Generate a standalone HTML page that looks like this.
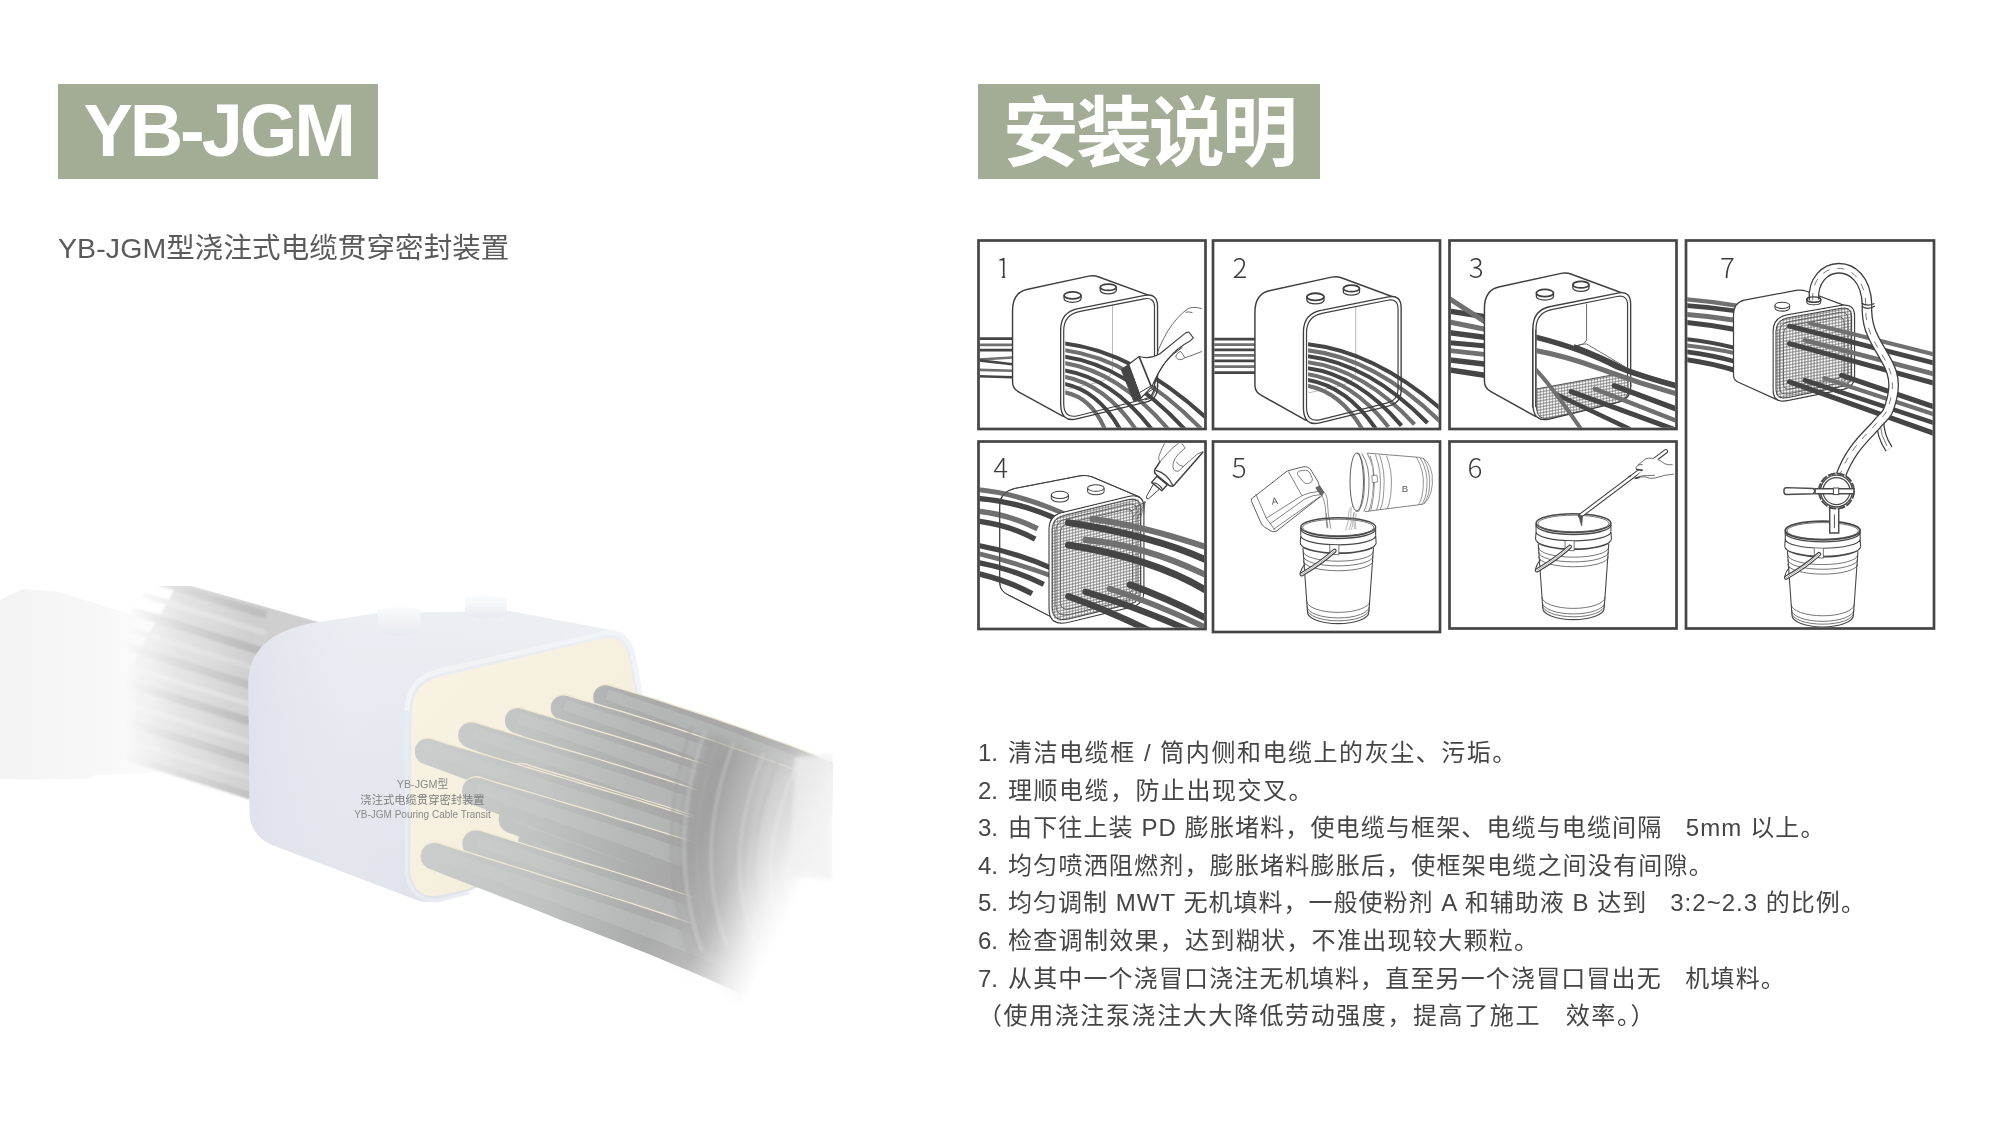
<!DOCTYPE html>
<html lang="zh-CN">
<head>
<meta charset="utf-8">
<title>YB-JGM 安装说明</title>
<style>
  html, body { margin: 0; padding: 0; background: #fff; }
  body { width: 2000px; height: 1143px; position: relative; overflow: hidden;
         font-family: "Liberation Sans", "Noto Sans CJK SC", sans-serif; color: #4a4a4a; }
  .tag { position: absolute; background: #a3ad96; color: #fff; font-weight: bold; white-space: nowrap; }
  #tag1 { left: 58px; top: 84px; width: 320px; height: 95px; }
  #tag1 span { position: absolute; left: 25.5px; top: 5px; font-size: 74px; line-height: 84px; letter-spacing: -3.1px; }
  #tag2 { left: 978px; top: 84px; width: 342px; height: 95px; }
  #tag2 span { position: absolute; left: 25px; top: 4px; font-size: 76px; line-height: 92px; letter-spacing: -3.1px; }
  #subtitle { position: absolute; left: 58px; top: 228px; letter-spacing: 0.1px; font-size: 28.5px; line-height: 40px; color: #5a5a5a; white-space: nowrap; font-weight: 400; }
  #steps { position: absolute; left: 978px; top: 734px; letter-spacing: 1.4px; margin: 0; padding: 0; list-style: none; font-size: 24px; line-height: 37.6px; color: #454545; white-space: nowrap; }
  #steps li { margin: 0; padding: 0; height: 37.6px; }
  #steps .n { display: inline-block; width: 30px; letter-spacing: 0; }
  /*LS*/#steps li:nth-child(1){letter-spacing:1.54px}#steps li:nth-child(2){letter-spacing:1.49px}#steps li:nth-child(3){letter-spacing:1.13px}#steps li:nth-child(4){letter-spacing:1.21px}#steps li:nth-child(5){letter-spacing:1.02px}#steps li:nth-child(6){letter-spacing:1.30px}#steps li:nth-child(7){letter-spacing:1.15px}#steps li:nth-child(8){letter-spacing:1.59px}/*LSEND*/
  #art { position: absolute; left: 0; top: 0; width: 2000px; height: 1143px; }
  #cap { position: absolute; left: 330px; top: 777px; width: 185px; text-align: center; font-size: 10px; line-height: 14.5px; color: #8a8a8a; white-space: nowrap; }
</style>
</head>
<body>

<!--PHOTO-->
<svg id="photo" viewBox="0 0 2000 1143" width="2000" height="1143" style="position:absolute;left:0;top:0">
<defs>
<filter id="bl2" x="-10%" y="-10%" width="120%" height="120%"><feGaussianBlur stdDeviation="2"/></filter>
<filter id="bl4" x="-10%" y="-10%" width="120%" height="120%"><feGaussianBlur stdDeviation="4"/></filter>
<filter id="bl8" x="-20%" y="-20%" width="140%" height="140%"><feGaussianBlur stdDeviation="8"/></filter>
<filter id="bl1" x="-5%" y="-5%" width="110%" height="110%"><feGaussianBlur stdDeviation="0.8"/></filter>
<linearGradient id="gBody" x1="0" y1="0" x2="0" y2="1"><stop offset="0" stop-color="#eef0f5"/><stop offset="0.45" stop-color="#e4e7ee"/><stop offset="1" stop-color="#dcdfe7"/></linearGradient>
<linearGradient id="gBodyH" x1="0" y1="0" x2="1" y2="0"><stop offset="0" stop-color="#dfe2ea" stop-opacity="0.9"/><stop offset="0.25" stop-color="#e8ebf1" stop-opacity="0.5"/><stop offset="1" stop-color="#e6e9ef" stop-opacity="0"/></linearGradient>
<linearGradient id="gFace" x1="0" y1="0" x2="1" y2="1"><stop offset="0" stop-color="#f8f3e4"/><stop offset="1" stop-color="#f3ecd9"/></linearGradient>
<linearGradient id="gStub" x1="0" y1="0" x2="0" y2="1"><stop offset="0" stop-color="#fafbfc"/><stop offset="1" stop-color="#e6e9f0"/></linearGradient>
<linearGradient id="gLfade" gradientUnits="userSpaceOnUse" x1="125" y1="0" x2="250" y2="0"><stop offset="0" stop-color="#fff" stop-opacity="0"/><stop offset="0.45" stop-color="#fff" stop-opacity="0.55"/><stop offset="1" stop-color="#fff" stop-opacity="1"/></linearGradient>
<mask id="mLeft" maskUnits="userSpaceOnUse" x="0" y="560" width="330" height="300"><rect x="0" y="560" width="330" height="300" fill="url(#gLfade)"/></mask>
<linearGradient id="gRfade" gradientUnits="userSpaceOnUse" x1="690" y1="850" x2="795" y2="900"><stop offset="0" stop-color="#fff" stop-opacity="1"/><stop offset="0.4" stop-color="#fff" stop-opacity="0.8"/><stop offset="0.8" stop-color="#fff" stop-opacity="0.2"/><stop offset="1" stop-color="#fff" stop-opacity="0"/></linearGradient>
<mask id="mRight" maskUnits="userSpaceOnUse" x="400" y="600" width="440" height="420"><rect x="400" y="600" width="440" height="420" fill="url(#gRfade)"/></mask>
<linearGradient id="gBand" gradientUnits="userSpaceOnUse" x1="0" y1="0" x2="210" y2="0"><stop offset="0" stop-color="#f3f3f3"/><stop offset="0.5" stop-color="#f8f8f8"/><stop offset="1" stop-color="#ffffff"/></linearGradient>
<linearGradient id="gCab" gradientUnits="userSpaceOnUse" x1="760" y1="0" x2="1560" y2="0"><stop offset="0" stop-color="#cbcdcd"/><stop offset="0.45" stop-color="#c2c4c4"/><stop offset="0.85" stop-color="#adaeae"/><stop offset="1" stop-color="#a9a9a9"/></linearGradient>
<clipPath id="cpLeft"><path d="M 150,586 L 192,586 L 330,625 L 330,860 L 60,860 L 60,700 Z"/></clipPath>
<clipPath id="cpPhoto"><rect x="0" y="570" width="832.5" height="440"/></clipPath>
</defs>
<g clip-path="url(#cpPhoto)">
<path d="M 0,600 L 22,589 L 60,592 L 210,640 L 210,770 L 95,775 L 90,779 L 0,779 Z" fill="url(#gBand)"/>
<g clip-path="url(#cpLeft)"><g mask="url(#mLeft)"><g transform="translate(0,570) scale(0.22753)" filter="url(#bl4)">
<path d="M 780,60 L 830,62 L 1480,250 L 1160,330 L 1160,1030 L 380,770 Z" fill="#cfcfcf"/>
<path d="M 300,-72 L 1170,198" stroke="#bfbfbf" stroke-width="34" fill="none"/>
<path d="M 300,8 L 1170,278" stroke="#dadada" stroke-width="26" fill="none"/>
<path d="M 300,93 L 1170,363" stroke="#bababa" stroke-width="36" fill="none"/>
<path d="M 300,178 L 1170,448" stroke="#d8d8d8" stroke-width="24" fill="none"/>
<path d="M 300,258 L 1170,528" stroke="#bebebe" stroke-width="36" fill="none"/>
<path d="M 300,343 L 1170,613" stroke="#dcdcdc" stroke-width="22" fill="none"/>
<path d="M 300,418 L 1170,688" stroke="#b9b9b9" stroke-width="36" fill="none"/>
<path d="M 300,508 L 1170,778" stroke="#dadada" stroke-width="24" fill="none"/>
<path d="M 300,588 L 1170,858" stroke="#bcbcbc" stroke-width="36" fill="none"/>
<path d="M 300,668 L 1170,938" stroke="#d8d8d8" stroke-width="22" fill="none"/>
<path d="M 300,743 L 1170,1013" stroke="#c0c0c0" stroke-width="32" fill="none"/>
</g></g></g>
<g transform="translate(200,580) scale(0.297442)">
<g filter="url(#bl1)">
<path d="M 892,62 L 892,118 Q 960,140 1032,118 L 1032,62 Q 960,42 892,62 Z" fill="url(#gStub)"/>
<path d="M 598,102 L 598,176 Q 670,198 742,172 L 742,100 Q 670,80 598,102 Z" fill="url(#gStub)"/>
</g>
<path d="M 163,345 Q 165,190 365,147 L 595,112 L 1040,104 L 1372,166 Q 1442,178 1458,250 L 1482,385 L 1400,800 L 900,1048 Q 800,1090 740,1080 L 245,892 Q 174,862 167,790 Z" fill="url(#gBody)"/>
<path d="M 163,345 Q 165,190 365,147 L 595,112 L 1040,104 L 1372,166 Q 1442,178 1458,250 L 1482,385 L 1400,800 L 900,1048 Q 800,1090 740,1080 L 245,892 Q 174,862 167,790 Z" fill="url(#gBodyH)"/>
<g filter="url(#bl1)">
<path d="M 598,102 L 598,176 Q 670,198 742,172 L 742,100 Q 670,80 598,102 Z" fill="url(#gStub)"/>
<path d="M 892,70 L 892,118 Q 960,140 1032,118 L 1032,70 Z" fill="url(#gStub)"/>
</g>
<path d="M 696,440 Q 698,335 798,308 L 1364,178 Q 1434,168 1456,250 L 1482,390" fill="none" stroke="#f1f3f7" stroke-width="16"/>
<path d="M 696,440 L 694,990 Q 714,1082 800,1078 L 905,1050" fill="none" stroke="#e9ecf2" stroke-width="12"/>
<path d="M 712,440 Q 716,350 802,326 L 1362,195 Q 1418,186 1440,250 L 1464,388 L 1420,800 L 900,1040 L 795,1062 Q 722,1070 706,985 Z" fill="url(#gFace)"/>
</g>
<g mask="url(#mRight)"><g transform="translate(200,580) scale(0.297442)">
<g transform="translate(2,-4)"><path d="M 1136,833 L 1186,848 L 1236,863 L 1285,879 L 1335,894 L 1385,909 L 1435,925 L 1485,941 L 1535,957 L 1585,973 L 1635,990 L 1685,1007 L 1736,1024 L 1786,1042 L 1836,1060 L 1886,1078 L 1936,1097 L 1987,1116 L 2037,1135 L 2087,1155 L 2137,1175 L 2188,1195 L 2238,1216 L 2288,1237 L 2338,1258 L 2262,1424 L 2213,1400 L 2165,1376 L 2117,1353 L 2069,1329 L 2021,1307 L 1973,1284 L 1925,1262 L 1877,1240 L 1829,1219 L 1781,1197 L 1733,1176 L 1684,1156 L 1636,1135 L 1588,1116 L 1540,1096 L 1492,1076 L 1443,1057 L 1395,1039 L 1347,1020 L 1298,1002 L 1250,983 L 1201,964 L 1152,946 L 1104,927 Z" fill="#efe8d2"/><circle cx="1120" cy="880" r="51.0" fill="#efe8d2"/></g>
<path d="M 1136,833 L 1186,848 L 1236,863 L 1285,879 L 1335,894 L 1385,909 L 1435,925 L 1485,941 L 1535,957 L 1585,973 L 1635,990 L 1685,1007 L 1736,1024 L 1786,1042 L 1836,1060 L 1886,1078 L 1936,1097 L 1987,1116 L 2037,1135 L 2087,1155 L 2137,1175 L 2188,1195 L 2238,1216 L 2288,1237 L 2338,1258 L 2262,1424 L 2213,1400 L 2165,1376 L 2117,1353 L 2069,1329 L 2021,1307 L 1973,1284 L 1925,1262 L 1877,1240 L 1829,1219 L 1781,1197 L 1733,1176 L 1684,1156 L 1636,1135 L 1588,1116 L 1540,1096 L 1492,1076 L 1443,1057 L 1395,1039 L 1347,1020 L 1298,1002 L 1250,983 L 1201,964 L 1152,946 L 1104,927 Z" fill="url(#gCab)"/><circle cx="1120" cy="880" r="50.0" fill="url(#gCab)"/>
<path d="M 1133,850 L 1182,866 L 1231,883 L 1280,899 L 1329,915 L 1379,931 L 1428,947 L 1477,964 L 1527,981 L 1576,998 L 1625,1015 L 1674,1033 L 1724,1051 L 1773,1070 L 1823,1089 L 1872,1108 L 1921,1127 L 1971,1147 L 2020,1167 L 2069,1187 L 2119,1208 L 2168,1229 L 2218,1250 L 2267,1272 L 2316,1294 L 2284,1364 L 2235,1341 L 2187,1318 L 2138,1295 L 2090,1273 L 2041,1251 L 1993,1230 L 1945,1208 L 1896,1187 L 1848,1167 L 1799,1147 L 1751,1127 L 1702,1107 L 1654,1087 L 1605,1068 L 1557,1050 L 1508,1031 L 1460,1013 L 1411,995 L 1363,978 L 1314,960 L 1265,943 L 1217,925 L 1168,907 L 1119,890 Z" fill="#d0d2d2" opacity="0.3" filter="url(#bl2)"/>
<g transform="translate(2,-4)"><path d="M 1376,356 L 1416,368 L 1455,380 L 1495,392 L 1535,404 L 1574,417 L 1614,430 L 1654,443 L 1694,456 L 1733,469 L 1773,483 L 1813,497 L 1853,511 L 1892,525 L 1932,540 L 1972,554 L 2012,569 L 2052,584 L 2091,600 L 2131,615 L 2171,631 L 2211,647 L 2251,663 L 2291,679 L 2330,696 L 2270,830 L 2231,811 L 2193,793 L 2155,774 L 2116,756 L 2078,738 L 2040,720 L 2002,703 L 1964,685 L 1925,668 L 1887,651 L 1849,634 L 1810,618 L 1772,601 L 1734,585 L 1695,569 L 1657,553 L 1619,538 L 1580,522 L 1542,507 L 1504,492 L 1465,477 L 1427,463 L 1388,448 L 1350,434 Z" fill="#efe8d2"/><circle cx="1363" cy="395" r="42.0" fill="#efe8d2"/></g>
<path d="M 1376,356 L 1416,368 L 1455,380 L 1495,392 L 1535,404 L 1574,417 L 1614,430 L 1654,443 L 1694,456 L 1733,469 L 1773,483 L 1813,497 L 1853,511 L 1892,525 L 1932,540 L 1972,554 L 2012,569 L 2052,584 L 2091,600 L 2131,615 L 2171,631 L 2211,647 L 2251,663 L 2291,679 L 2330,696 L 2270,830 L 2231,811 L 2193,793 L 2155,774 L 2116,756 L 2078,738 L 2040,720 L 2002,703 L 1964,685 L 1925,668 L 1887,651 L 1849,634 L 1810,618 L 1772,601 L 1734,585 L 1695,569 L 1657,553 L 1619,538 L 1580,522 L 1542,507 L 1504,492 L 1465,477 L 1427,463 L 1388,448 L 1350,434 Z" fill="url(#gCab)"/><circle cx="1363" cy="395" r="41.0" fill="url(#gCab)"/>
<path d="M 1374,369 L 1414,381 L 1453,394 L 1492,407 L 1531,420 L 1570,433 L 1609,446 L 1648,460 L 1687,474 L 1726,488 L 1765,502 L 1804,516 L 1843,531 L 1883,546 L 1922,561 L 1961,576 L 2000,592 L 2039,607 L 2078,623 L 2117,639 L 2156,655 L 2196,672 L 2235,689 L 2274,705 L 2313,722 L 2287,779 L 2249,761 L 2210,743 L 2172,726 L 2133,708 L 2095,691 L 2056,674 L 2018,657 L 1979,641 L 1941,624 L 1903,608 L 1864,592 L 1826,576 L 1787,560 L 1749,545 L 1710,530 L 1672,515 L 1633,500 L 1595,485 L 1556,471 L 1518,456 L 1479,442 L 1441,429 L 1402,415 L 1364,401 Z" fill="#d0d2d2" opacity="0.3" filter="url(#bl2)"/>
<g transform="translate(2,-4)"><path d="M 1234,390 L 1280,404 L 1325,417 L 1371,431 L 1416,444 L 1462,458 L 1508,472 L 1553,487 L 1599,501 L 1645,516 L 1691,531 L 1737,547 L 1782,563 L 1828,579 L 1874,595 L 1920,611 L 1966,628 L 2012,645 L 2058,663 L 2103,680 L 2149,698 L 2195,717 L 2241,735 L 2287,754 L 2333,773 L 2267,918 L 2223,896 L 2179,875 L 2135,854 L 2091,833 L 2047,813 L 2003,792 L 1959,772 L 1915,753 L 1871,733 L 1827,714 L 1783,695 L 1739,676 L 1694,658 L 1650,640 L 1606,622 L 1562,604 L 1518,587 L 1474,569 L 1430,553 L 1385,536 L 1341,519 L 1297,503 L 1252,486 L 1208,470 Z" fill="#efe8d2"/><circle cx="1221" cy="430" r="43.0" fill="#efe8d2"/></g>
<path d="M 1234,390 L 1280,404 L 1325,417 L 1371,431 L 1416,444 L 1462,458 L 1508,472 L 1553,487 L 1599,501 L 1645,516 L 1691,531 L 1737,547 L 1782,563 L 1828,579 L 1874,595 L 1920,611 L 1966,628 L 2012,645 L 2058,663 L 2103,680 L 2149,698 L 2195,717 L 2241,735 L 2287,754 L 2333,773 L 2267,918 L 2223,896 L 2179,875 L 2135,854 L 2091,833 L 2047,813 L 2003,792 L 1959,772 L 1915,753 L 1871,733 L 1827,714 L 1783,695 L 1739,676 L 1694,658 L 1650,640 L 1606,622 L 1562,604 L 1518,587 L 1474,569 L 1430,553 L 1385,536 L 1341,519 L 1297,503 L 1252,486 L 1208,470 Z" fill="url(#gCab)"/><circle cx="1221" cy="430" r="42.0" fill="url(#gCab)"/>
<path d="M 1233,403 L 1278,418 L 1322,432 L 1367,446 L 1412,461 L 1457,475 L 1502,490 L 1547,505 L 1593,520 L 1638,536 L 1683,552 L 1728,568 L 1773,585 L 1818,601 L 1863,618 L 1908,635 L 1953,653 L 1998,671 L 2043,689 L 2088,707 L 2134,726 L 2179,745 L 2224,764 L 2269,783 L 2314,803 L 2286,864 L 2242,843 L 2197,823 L 2153,803 L 2109,783 L 2064,763 L 2020,744 L 1976,724 L 1932,705 L 1887,687 L 1843,668 L 1799,650 L 1754,632 L 1710,615 L 1666,598 L 1621,581 L 1577,564 L 1532,547 L 1488,531 L 1444,515 L 1399,499 L 1355,484 L 1310,468 L 1266,452 L 1221,437 Z" fill="#d0d2d2" opacity="0.3" filter="url(#bl2)"/>
<g transform="translate(2,-4)"><path d="M 1080,433 L 1132,449 L 1184,464 L 1236,480 L 1288,495 L 1340,511 L 1392,526 L 1444,542 L 1497,558 L 1549,574 L 1601,591 L 1654,608 L 1706,625 L 1758,643 L 1811,661 L 1863,680 L 1915,699 L 1968,718 L 2020,738 L 2073,757 L 2125,778 L 2178,798 L 2230,819 L 2283,841 L 2335,862 L 2265,1018 L 2214,993 L 2164,969 L 2114,945 L 2064,921 L 2013,898 L 1963,875 L 1913,852 L 1863,830 L 1812,808 L 1762,786 L 1711,765 L 1661,744 L 1611,724 L 1560,704 L 1510,684 L 1459,664 L 1409,645 L 1358,626 L 1308,607 L 1257,588 L 1206,570 L 1155,551 L 1104,532 L 1054,513 Z" fill="#efe8d2"/><circle cx="1067" cy="473" r="43.0" fill="#efe8d2"/></g>
<path d="M 1080,433 L 1132,449 L 1184,464 L 1236,480 L 1288,495 L 1340,511 L 1392,526 L 1444,542 L 1497,558 L 1549,574 L 1601,591 L 1654,608 L 1706,625 L 1758,643 L 1811,661 L 1863,680 L 1915,699 L 1968,718 L 2020,738 L 2073,757 L 2125,778 L 2178,798 L 2230,819 L 2283,841 L 2335,862 L 2265,1018 L 2214,993 L 2164,969 L 2114,945 L 2064,921 L 2013,898 L 1963,875 L 1913,852 L 1863,830 L 1812,808 L 1762,786 L 1711,765 L 1661,744 L 1611,724 L 1560,704 L 1510,684 L 1459,664 L 1409,645 L 1358,626 L 1308,607 L 1257,588 L 1206,570 L 1155,551 L 1104,532 L 1054,513 Z" fill="url(#gCab)"/><circle cx="1067" cy="473" r="42.0" fill="url(#gCab)"/>
<path d="M 1079,446 L 1130,463 L 1181,479 L 1233,495 L 1284,512 L 1335,528 L 1387,545 L 1438,561 L 1490,578 L 1541,595 L 1593,613 L 1644,631 L 1696,649 L 1748,667 L 1799,686 L 1851,706 L 1902,725 L 1954,745 L 2005,766 L 2057,786 L 2109,808 L 2160,829 L 2212,851 L 2263,873 L 2315,895 L 2285,961 L 2234,937 L 2184,914 L 2133,891 L 2082,868 L 2032,846 L 1981,824 L 1930,802 L 1880,781 L 1829,760 L 1778,739 L 1728,719 L 1677,699 L 1626,680 L 1576,660 L 1525,641 L 1474,623 L 1423,605 L 1373,587 L 1322,569 L 1271,551 L 1220,533 L 1169,515 L 1118,498 L 1067,480 Z" fill="#d0d2d2" opacity="0.3" filter="url(#bl2)"/>
<g transform="translate(2,-4)"><path d="M 925,481 L 983,499 L 1042,516 L 1100,534 L 1159,551 L 1217,569 L 1276,586 L 1334,603 L 1393,621 L 1452,639 L 1511,657 L 1570,675 L 1629,694 L 1688,714 L 1747,734 L 1806,754 L 1865,775 L 1924,796 L 1983,818 L 2042,840 L 2101,863 L 2161,886 L 2220,909 L 2279,934 L 2338,958 L 2262,1125 L 2205,1097 L 2149,1070 L 2092,1043 L 2036,1016 L 1979,990 L 1922,965 L 1866,940 L 1809,915 L 1752,891 L 1696,867 L 1639,844 L 1582,821 L 1526,798 L 1469,776 L 1412,754 L 1355,733 L 1298,712 L 1241,691 L 1183,669 L 1126,648 L 1069,627 L 1012,605 L 955,584 L 897,563 Z" fill="#efe8d2"/><circle cx="911" cy="522" r="44.0" fill="#efe8d2"/></g>
<path d="M 925,481 L 983,499 L 1042,516 L 1100,534 L 1159,551 L 1217,569 L 1276,586 L 1334,603 L 1393,621 L 1452,639 L 1511,657 L 1570,675 L 1629,694 L 1688,714 L 1747,734 L 1806,754 L 1865,775 L 1924,796 L 1983,818 L 2042,840 L 2101,863 L 2161,886 L 2220,909 L 2279,934 L 2338,958 L 2262,1125 L 2205,1097 L 2149,1070 L 2092,1043 L 2036,1016 L 1979,990 L 1922,965 L 1866,940 L 1809,915 L 1752,891 L 1696,867 L 1639,844 L 1582,821 L 1526,798 L 1469,776 L 1412,754 L 1355,733 L 1298,712 L 1241,691 L 1183,669 L 1126,648 L 1069,627 L 1012,605 L 955,584 L 897,563 Z" fill="url(#gCab)"/><circle cx="911" cy="522" r="43.0" fill="url(#gCab)"/>
<path d="M 923,495 L 981,513 L 1039,532 L 1096,550 L 1154,569 L 1212,587 L 1270,606 L 1328,624 L 1386,643 L 1444,661 L 1502,680 L 1560,700 L 1618,720 L 1676,740 L 1735,761 L 1793,782 L 1851,804 L 1909,826 L 1967,849 L 2025,872 L 2083,895 L 2142,919 L 2200,944 L 2258,969 L 2316,994 L 2284,1065 L 2227,1038 L 2170,1012 L 2113,986 L 2056,960 L 1999,936 L 1941,911 L 1884,887 L 1827,863 L 1770,840 L 1713,817 L 1656,795 L 1599,773 L 1542,752 L 1484,731 L 1427,710 L 1370,690 L 1313,670 L 1255,650 L 1198,630 L 1141,610 L 1083,589 L 1026,569 L 969,549 L 911,529 Z" fill="#d0d2d2" opacity="0.3" filter="url(#bl2)"/>
<g transform="translate(2,-4)"><path d="M 1092,621 L 1144,637 L 1195,652 L 1247,667 L 1298,683 L 1350,698 L 1401,714 L 1453,729 L 1505,745 L 1557,761 L 1609,778 L 1661,795 L 1712,812 L 1764,830 L 1816,848 L 1868,866 L 1920,885 L 1972,904 L 2024,923 L 2076,943 L 2128,963 L 2180,984 L 2232,1005 L 2284,1026 L 2336,1047 L 2264,1207 L 2214,1183 L 2164,1159 L 2114,1135 L 2064,1112 L 2015,1088 L 1965,1066 L 1915,1043 L 1865,1021 L 1815,1000 L 1765,978 L 1715,957 L 1666,936 L 1616,916 L 1566,896 L 1516,876 L 1466,857 L 1416,838 L 1366,819 L 1315,800 L 1265,782 L 1215,763 L 1164,744 L 1114,725 L 1064,707 Z" fill="#efe8d2"/><circle cx="1078" cy="664" r="46.0" fill="#efe8d2"/></g>
<path d="M 1092,621 L 1144,637 L 1195,652 L 1247,667 L 1298,683 L 1350,698 L 1401,714 L 1453,729 L 1505,745 L 1557,761 L 1609,778 L 1661,795 L 1712,812 L 1764,830 L 1816,848 L 1868,866 L 1920,885 L 1972,904 L 2024,923 L 2076,943 L 2128,963 L 2180,984 L 2232,1005 L 2284,1026 L 2336,1047 L 2264,1207 L 2214,1183 L 2164,1159 L 2114,1135 L 2064,1112 L 2015,1088 L 1965,1066 L 1915,1043 L 1865,1021 L 1815,1000 L 1765,978 L 1715,957 L 1666,936 L 1616,916 L 1566,896 L 1516,876 L 1466,857 L 1416,838 L 1366,819 L 1315,800 L 1265,782 L 1215,763 L 1164,744 L 1114,725 L 1064,707 Z" fill="url(#gCab)"/><circle cx="1078" cy="664" r="45.0" fill="url(#gCab)"/>
<path d="M 1090,636 L 1141,652 L 1192,669 L 1243,685 L 1294,701 L 1345,717 L 1395,734 L 1447,750 L 1498,767 L 1549,784 L 1600,801 L 1651,819 L 1702,837 L 1753,856 L 1804,874 L 1855,894 L 1906,913 L 1957,933 L 2009,953 L 2060,974 L 2111,995 L 2162,1016 L 2213,1037 L 2264,1059 L 2315,1082 L 2285,1149 L 2234,1126 L 2184,1102 L 2134,1080 L 2084,1057 L 2034,1035 L 1983,1013 L 1933,992 L 1883,971 L 1833,950 L 1783,929 L 1732,909 L 1682,890 L 1632,870 L 1582,851 L 1531,832 L 1481,814 L 1431,796 L 1381,778 L 1330,760 L 1280,743 L 1229,725 L 1179,707 L 1128,690 L 1078,672 Z" fill="#d0d2d2" opacity="0.3" filter="url(#bl2)"/>
<g transform="translate(2,-4)"><path d="M 1067,759 L 1120,775 L 1173,790 L 1225,806 L 1278,822 L 1330,838 L 1383,854 L 1436,870 L 1489,887 L 1542,903 L 1595,921 L 1648,938 L 1701,956 L 1754,974 L 1807,993 L 1860,1012 L 1913,1031 L 1966,1051 L 2019,1071 L 2073,1091 L 2126,1112 L 2179,1133 L 2232,1155 L 2285,1177 L 2338,1199 L 2262,1366 L 2211,1340 L 2160,1315 L 2109,1291 L 2058,1267 L 2007,1243 L 1957,1220 L 1906,1197 L 1855,1174 L 1804,1152 L 1753,1130 L 1702,1108 L 1651,1087 L 1600,1066 L 1549,1045 L 1498,1025 L 1447,1005 L 1396,985 L 1345,966 L 1294,946 L 1242,927 L 1191,908 L 1139,888 L 1088,869 L 1037,849 Z" fill="#efe8d2"/><circle cx="1052" cy="804" r="49.0" fill="#efe8d2"/></g>
<path d="M 1067,759 L 1120,775 L 1173,790 L 1225,806 L 1278,822 L 1330,838 L 1383,854 L 1436,870 L 1489,887 L 1542,903 L 1595,921 L 1648,938 L 1701,956 L 1754,974 L 1807,993 L 1860,1012 L 1913,1031 L 1966,1051 L 2019,1071 L 2073,1091 L 2126,1112 L 2179,1133 L 2232,1155 L 2285,1177 L 2338,1199 L 2262,1366 L 2211,1340 L 2160,1315 L 2109,1291 L 2058,1267 L 2007,1243 L 1957,1220 L 1906,1197 L 1855,1174 L 1804,1152 L 1753,1130 L 1702,1108 L 1651,1087 L 1600,1066 L 1549,1045 L 1498,1025 L 1447,1005 L 1396,985 L 1345,966 L 1294,946 L 1242,927 L 1191,908 L 1139,888 L 1088,869 L 1037,849 Z" fill="url(#gCab)"/><circle cx="1052" cy="804" r="48.0" fill="url(#gCab)"/>
<path d="M 1064,775 L 1116,792 L 1168,809 L 1220,825 L 1272,842 L 1324,859 L 1376,876 L 1429,893 L 1481,910 L 1533,928 L 1585,946 L 1637,964 L 1689,983 L 1742,1002 L 1794,1021 L 1846,1041 L 1898,1061 L 1951,1082 L 2003,1102 L 2055,1124 L 2107,1145 L 2160,1167 L 2212,1189 L 2264,1212 L 2316,1235 L 2284,1306 L 2232,1281 L 2181,1257 L 2130,1234 L 2079,1211 L 2027,1188 L 1976,1165 L 1925,1143 L 1874,1121 L 1822,1100 L 1771,1079 L 1720,1058 L 1669,1038 L 1617,1018 L 1566,998 L 1515,979 L 1463,960 L 1412,941 L 1361,923 L 1309,905 L 1258,886 L 1206,868 L 1155,850 L 1103,831 L 1052,813 Z" fill="#d0d2d2" opacity="0.3" filter="url(#bl2)"/>
<g transform="translate(2,-4)"><path d="M 779,536 L 843,556 L 908,575 L 973,594 L 1037,613 L 1102,633 L 1167,652 L 1231,671 L 1296,691 L 1361,710 L 1426,729 L 1491,749 L 1556,769 L 1621,790 L 1686,812 L 1752,834 L 1817,856 L 1882,880 L 1948,903 L 2013,928 L 2079,952 L 2144,978 L 2209,1004 L 2275,1030 L 2340,1057 L 2260,1233 L 2197,1203 L 2135,1172 L 2072,1143 L 2010,1114 L 1947,1085 L 1885,1058 L 1822,1030 L 1760,1003 L 1697,977 L 1634,951 L 1572,926 L 1509,901 L 1446,877 L 1384,853 L 1321,830 L 1257,806 L 1194,783 L 1131,759 L 1068,736 L 1004,712 L 941,688 L 878,665 L 815,641 L 751,618 Z" fill="#efe8d2"/><circle cx="765" cy="577" r="44.0" fill="#efe8d2"/></g>
<path d="M 779,536 L 843,556 L 908,575 L 973,594 L 1037,613 L 1102,633 L 1167,652 L 1231,671 L 1296,691 L 1361,710 L 1426,729 L 1491,749 L 1556,769 L 1621,790 L 1686,812 L 1752,834 L 1817,856 L 1882,880 L 1948,903 L 2013,928 L 2079,952 L 2144,978 L 2209,1004 L 2275,1030 L 2340,1057 L 2260,1233 L 2197,1203 L 2135,1172 L 2072,1143 L 2010,1114 L 1947,1085 L 1885,1058 L 1822,1030 L 1760,1003 L 1697,977 L 1634,951 L 1572,926 L 1509,901 L 1446,877 L 1384,853 L 1321,830 L 1257,806 L 1194,783 L 1131,759 L 1068,736 L 1004,712 L 941,688 L 878,665 L 815,641 L 751,618 Z" fill="url(#gCab)"/><circle cx="765" cy="577" r="43.0" fill="url(#gCab)"/>
<path d="M 777,550 L 841,570 L 905,591 L 969,611 L 1033,632 L 1097,652 L 1161,672 L 1225,693 L 1289,713 L 1353,734 L 1417,754 L 1481,775 L 1545,797 L 1610,818 L 1674,841 L 1738,864 L 1802,888 L 1867,912 L 1931,936 L 1995,962 L 2060,987 L 2124,1014 L 2188,1041 L 2253,1068 L 2317,1096 L 2283,1171 L 2220,1141 L 2157,1112 L 2094,1084 L 2031,1056 L 1968,1028 L 1904,1002 L 1841,975 L 1778,950 L 1715,925 L 1652,900 L 1589,876 L 1526,852 L 1462,829 L 1399,807 L 1336,784 L 1273,762 L 1209,740 L 1146,718 L 1082,695 L 1019,673 L 955,651 L 892,629 L 829,606 L 765,584 Z" fill="#d0d2d2" opacity="0.3" filter="url(#bl2)"/>
<g transform="translate(2,-4)"><path d="M 942,666 L 999,684 L 1057,701 L 1115,718 L 1173,735 L 1231,753 L 1289,770 L 1347,787 L 1404,805 L 1463,822 L 1521,840 L 1579,858 L 1638,877 L 1696,897 L 1754,916 L 1813,937 L 1871,957 L 1930,978 L 1988,1000 L 2047,1022 L 2105,1044 L 2164,1067 L 2222,1090 L 2281,1114 L 2339,1138 L 2261,1310 L 2205,1282 L 2149,1255 L 2093,1229 L 2037,1202 L 1981,1177 L 1925,1151 L 1869,1127 L 1813,1102 L 1757,1078 L 1701,1055 L 1645,1031 L 1589,1009 L 1533,986 L 1477,965 L 1421,943 L 1365,922 L 1308,901 L 1252,880 L 1195,859 L 1139,838 L 1082,817 L 1026,796 L 969,775 L 912,754 Z" fill="#efe8d2"/><circle cx="927" cy="710" r="47.0" fill="#efe8d2"/></g>
<path d="M 942,666 L 999,684 L 1057,701 L 1115,718 L 1173,735 L 1231,753 L 1289,770 L 1347,787 L 1404,805 L 1463,822 L 1521,840 L 1579,858 L 1638,877 L 1696,897 L 1754,916 L 1813,937 L 1871,957 L 1930,978 L 1988,1000 L 2047,1022 L 2105,1044 L 2164,1067 L 2222,1090 L 2281,1114 L 2339,1138 L 2261,1310 L 2205,1282 L 2149,1255 L 2093,1229 L 2037,1202 L 1981,1177 L 1925,1151 L 1869,1127 L 1813,1102 L 1757,1078 L 1701,1055 L 1645,1031 L 1589,1009 L 1533,986 L 1477,965 L 1421,943 L 1365,922 L 1308,901 L 1252,880 L 1195,859 L 1139,838 L 1082,817 L 1026,796 L 969,775 L 912,754 Z" fill="url(#gCab)"/><circle cx="927" cy="710" r="46.0" fill="url(#gCab)"/>
<path d="M 939,682 L 996,700 L 1054,718 L 1111,736 L 1168,755 L 1225,773 L 1283,791 L 1340,810 L 1397,828 L 1454,846 L 1512,865 L 1569,885 L 1627,904 L 1684,925 L 1742,945 L 1799,966 L 1857,988 L 1914,1010 L 1972,1032 L 2029,1055 L 2087,1078 L 2144,1102 L 2202,1126 L 2259,1151 L 2316,1176 L 2284,1248 L 2227,1222 L 2171,1196 L 2114,1170 L 2058,1145 L 2001,1121 L 1945,1096 L 1889,1072 L 1832,1049 L 1776,1026 L 1719,1004 L 1663,982 L 1606,960 L 1550,939 L 1493,918 L 1437,897 L 1380,877 L 1324,858 L 1267,838 L 1210,818 L 1154,798 L 1097,778 L 1040,758 L 984,738 L 927,718 Z" fill="#d0d2d2" opacity="0.3" filter="url(#bl2)"/>
<g transform="translate(2,-4)"><path d="M 942,844 L 1000,862 L 1057,880 L 1115,898 L 1173,916 L 1231,934 L 1289,952 L 1347,969 L 1405,987 L 1463,1005 L 1521,1024 L 1580,1043 L 1638,1062 L 1696,1082 L 1755,1103 L 1813,1123 L 1871,1145 L 1930,1166 L 1988,1188 L 2047,1211 L 2105,1234 L 2164,1257 L 2222,1281 L 2281,1306 L 2339,1330 L 2261,1499 L 2205,1471 L 2149,1443 L 2093,1416 L 2037,1390 L 1981,1363 L 1925,1338 L 1869,1312 L 1813,1287 L 1757,1263 L 1701,1238 L 1645,1215 L 1589,1191 L 1533,1169 L 1477,1146 L 1421,1124 L 1365,1103 L 1308,1081 L 1252,1059 L 1195,1038 L 1139,1016 L 1082,994 L 1025,973 L 969,951 L 912,930 Z" fill="#efe8d2"/><circle cx="927" cy="887" r="46.0" fill="#efe8d2"/></g>
<path d="M 942,844 L 1000,862 L 1057,880 L 1115,898 L 1173,916 L 1231,934 L 1289,952 L 1347,969 L 1405,987 L 1463,1005 L 1521,1024 L 1580,1043 L 1638,1062 L 1696,1082 L 1755,1103 L 1813,1123 L 1871,1145 L 1930,1166 L 1988,1188 L 2047,1211 L 2105,1234 L 2164,1257 L 2222,1281 L 2281,1306 L 2339,1330 L 2261,1499 L 2205,1471 L 2149,1443 L 2093,1416 L 2037,1390 L 1981,1363 L 1925,1338 L 1869,1312 L 1813,1287 L 1757,1263 L 1701,1238 L 1645,1215 L 1589,1191 L 1533,1169 L 1477,1146 L 1421,1124 L 1365,1103 L 1308,1081 L 1252,1059 L 1195,1038 L 1139,1016 L 1082,994 L 1025,973 L 969,951 L 912,930 Z" fill="url(#gCab)"/><circle cx="927" cy="887" r="45.0" fill="url(#gCab)"/>
<path d="M 939,859 L 996,878 L 1054,897 L 1111,916 L 1168,935 L 1225,953 L 1283,972 L 1340,991 L 1397,1010 L 1455,1029 L 1512,1048 L 1569,1068 L 1627,1089 L 1684,1109 L 1742,1131 L 1799,1152 L 1857,1174 L 1914,1197 L 1972,1220 L 2029,1243 L 2087,1267 L 2144,1291 L 2202,1316 L 2259,1341 L 2317,1367 L 2283,1438 L 2227,1411 L 2171,1385 L 2114,1359 L 2058,1333 L 2001,1308 L 1945,1283 L 1888,1259 L 1832,1235 L 1776,1211 L 1719,1188 L 1663,1165 L 1606,1143 L 1550,1121 L 1493,1100 L 1437,1079 L 1380,1059 L 1324,1038 L 1267,1018 L 1210,997 L 1154,977 L 1097,956 L 1040,936 L 984,915 L 927,895 Z" fill="#d0d2d2" opacity="0.3" filter="url(#bl2)"/>
<g transform="translate(2,-4)"><path d="M 802,887 L 866,907 L 929,926 L 993,946 L 1057,966 L 1121,986 L 1184,1006 L 1248,1026 L 1312,1046 L 1376,1066 L 1440,1086 L 1504,1107 L 1568,1128 L 1633,1150 L 1697,1172 L 1762,1195 L 1826,1218 L 1890,1242 L 1955,1266 L 2019,1291 L 2084,1317 L 2148,1343 L 2213,1369 L 2277,1396 L 2341,1424 L 2259,1601 L 2197,1570 L 2135,1539 L 2073,1509 L 2012,1480 L 1950,1451 L 1889,1422 L 1827,1394 L 1765,1367 L 1704,1340 L 1642,1313 L 1580,1288 L 1519,1262 L 1457,1237 L 1395,1213 L 1333,1189 L 1271,1165 L 1208,1141 L 1146,1116 L 1084,1092 L 1021,1068 L 959,1044 L 897,1020 L 834,996 L 772,971 Z" fill="#efe8d2"/><circle cx="787" cy="929" r="46.0" fill="#efe8d2"/></g>
<path d="M 802,887 L 866,907 L 929,926 L 993,946 L 1057,966 L 1121,986 L 1184,1006 L 1248,1026 L 1312,1046 L 1376,1066 L 1440,1086 L 1504,1107 L 1568,1128 L 1633,1150 L 1697,1172 L 1762,1195 L 1826,1218 L 1890,1242 L 1955,1266 L 2019,1291 L 2084,1317 L 2148,1343 L 2213,1369 L 2277,1396 L 2341,1424 L 2259,1601 L 2197,1570 L 2135,1539 L 2073,1509 L 2012,1480 L 1950,1451 L 1889,1422 L 1827,1394 L 1765,1367 L 1704,1340 L 1642,1313 L 1580,1288 L 1519,1262 L 1457,1237 L 1395,1213 L 1333,1189 L 1271,1165 L 1208,1141 L 1146,1116 L 1084,1092 L 1021,1068 L 959,1044 L 897,1020 L 834,996 L 772,971 Z" fill="url(#gCab)"/><circle cx="787" cy="929" r="45.0" fill="url(#gCab)"/>
<path d="M 799,901 L 862,922 L 925,943 L 989,964 L 1052,986 L 1115,1007 L 1178,1028 L 1241,1049 L 1304,1070 L 1367,1091 L 1430,1112 L 1494,1134 L 1557,1156 L 1620,1179 L 1684,1202 L 1747,1225 L 1810,1250 L 1874,1275 L 1937,1300 L 2001,1326 L 2064,1352 L 2127,1379 L 2191,1406 L 2254,1434 L 2318,1463 L 2282,1538 L 2220,1508 L 2158,1479 L 2096,1450 L 2034,1421 L 1971,1393 L 1909,1366 L 1847,1339 L 1785,1313 L 1723,1287 L 1660,1262 L 1598,1237 L 1536,1212 L 1474,1189 L 1411,1165 L 1349,1143 L 1287,1120 L 1224,1097 L 1162,1074 L 1099,1051 L 1037,1028 L 974,1005 L 912,983 L 849,960 L 787,937 Z" fill="#d0d2d2" opacity="0.3" filter="url(#bl2)"/>
</g>
<g filter="url(#bl8)">
<path d="M 705,738 L 730,745 L 800,768 L 840,782 L 840,1010 L 750,1010 L 712,962 L 690,935 L 685,810 Z" fill="#adadad"/>
<path d="M 725,742 Q 682,830 708,960" stroke="#9e9e9e" stroke-width="40" fill="none" opacity="0.8"/>
<path d="M 785,760 Q 745,850 775,990" stroke="#c6c6c6" stroke-width="30" fill="none" opacity="0.8"/>
</g>
<g filter="url(#bl1)">
<path d="M 692,726 Q 652,840 690,955" stroke="#a2a2a2" stroke-width="4" fill="none" opacity="0.45"/>
<path d="M 705,731 Q 665,844 702,952" stroke="#c8c8c8" stroke-width="4" fill="none" opacity="0.45"/>
<path d="M 719,736 Q 677,848 714,949" stroke="#a8a8a8" stroke-width="4" fill="none" opacity="0.45"/>
<path d="M 734,742 Q 692,853 727,946" stroke="#c6c6c6" stroke-width="4" fill="none" opacity="0.45"/>
<path d="M 749,748 Q 706,858 741,943" stroke="#ababab" stroke-width="4" fill="none" opacity="0.45"/>
<path d="M 764,753 Q 720,863 755,940" stroke="#cdcdcd" stroke-width="4" fill="none" opacity="0.45"/>
<path d="M 779,759 Q 735,868 768,937" stroke="#b0b0b0" stroke-width="4" fill="none" opacity="0.45"/>
<path d="M 796,766 Q 751,873 784,933" stroke="#d2d2d2" stroke-width="4" fill="none" opacity="0.45"/>
<path d="M 814,772 Q 767,878 799,929" stroke="#b6b6b6" stroke-width="4" fill="none" opacity="0.45"/>
<path d="M 831,779 Q 783,884 814,926" stroke="#d6d6d6" stroke-width="4" fill="none" opacity="0.45"/>
</g>
</g>
<path d="M 795,757 L 832.5,754 L 832.5,880 L 790,875 Z" fill="#f0f0f0" opacity="0.7" filter="url(#bl2)"/>
</g>
</svg>
<!--/PHOTO-->

<svg id="art" viewBox="0 0 2000 1143" width="2000" height="1143">
<!--PANELS-->
<defs>
<clipPath id="cp1"><rect x="979.8" y="241.8" width="224.4" height="186"/></clipPath>
<clipPath id="cp2"><rect x="1214.3" y="241.8" width="224.4" height="186"/></clipPath>
<clipPath id="cp3"><rect x="1450.8" y="241.8" width="224.4" height="186"/></clipPath>
<clipPath id="cp7"><rect x="1687.3" y="241.8" width="245.4" height="385.4"/></clipPath>
<clipPath id="cp4"><rect x="979.8" y="442.8" width="224.4" height="185"/></clipPath>
<clipPath id="cp5"><rect x="1214.3" y="442.8" width="224.4" height="188"/></clipPath>
<clipPath id="cp6"><rect x="1450.8" y="442.8" width="224.4" height="184.4"/></clipPath>
</defs>
<g clip-path="url(#cp1)">
<g transform="translate(968,235.8) scale(0.170,0.168)">
<path d="M 60,612 L 270,612" stroke="#454545" stroke-width="16" fill="none"/>
<path d="M 60,649 L 270,649" stroke="#707070" stroke-width="16" fill="none"/>
<path d="M 60,681 L 270,681" stroke="#454545" stroke-width="16" fill="none"/>
<path d="M 60,737 L 262,724" stroke="#707070" stroke-width="15" fill="none"/>
<path d="M 60,741 L 262,765" stroke="#454545" stroke-width="15" fill="none"/>
<path d="M 60,798 L 262,803" stroke="#707070" stroke-width="15" fill="none"/>
<path d="M 60,836 L 262,842" stroke="#454545" stroke-width="16" fill="none"/>
<path d="M 560,1075 L 300,930 Q 262,910 262,870 L 262,445 Q 262,335 352,318 L 710,240 Q 740,234 770,245 L 1085,362 L 1115,900 Z" fill="#fff" stroke="#3f3f3f" stroke-width="8.5" stroke-linejoin="round"/>
<path d="M 565,355 L 565,375 A 50,21 0 0 0 665,375 L 665,355" fill="#fff" stroke="#3f3f3f" stroke-width="7.5"/>
<ellipse cx="615" cy="355" rx="50" ry="21" fill="#fff" stroke="#3f3f3f" stroke-width="10.5"/>
<path d="M 778,306 L 778,326 A 47,19 0 0 0 872,326 L 872,306" fill="#fff" stroke="#3f3f3f" stroke-width="7.5"/>
<ellipse cx="825" cy="306" rx="47" ry="19" fill="#fff" stroke="#3f3f3f" stroke-width="10.5"/>
<path d="M 545,560 Q 545,450 655,432 L 1040,355 Q 1115,340 1115,420 L 1115,900 Q 1115,975 1040,992 L 640,1090 Q 545,1112 545,1000 Z" fill="#fff" stroke="none"/>
<path d="M 850,412 L 850,790 Q 848,850 770,872 L 575,915" fill="none" stroke="#9a9a9a" stroke-width="4"/>
<clipPath id="p1in"><path d="M 572,300 L 1400,300 L 1400,1200 L 572,1200 Z"/></clipPath>
<g clip-path="url(#p1in)">
<path d="M 560,640 Q 1000,690 1460,1140" fill="none" stroke="#454545" stroke-width="24"/>
<path d="M 560,680 Q 963,729 1369,1147" fill="none" stroke="#707070" stroke-width="24"/>
<path d="M 560,718 Q 926,767 1277,1154" fill="none" stroke="#454545" stroke-width="24"/>
<path d="M 560,756 Q 889,806 1186,1161" fill="none" stroke="#707070" stroke-width="24"/>
<path d="M 560,800 Q 851,844 1094,1169" fill="none" stroke="#454545" stroke-width="24"/>
<path d="M 560,838 Q 814,883 1003,1176" fill="none" stroke="#707070" stroke-width="24"/>
<path d="M 560,880 Q 777,921 911,1183" fill="none" stroke="#454545" stroke-width="24"/>
<path d="M 560,930 Q 740,960 820,1190" fill="none" stroke="#707070" stroke-width="24"/>
</g>
<path d="M 545,560 Q 545,450 655,432 L 1040,355 Q 1115,340 1115,420 L 1115,900 Q 1115,975 1040,992 L 640,1090 Q 545,1112 545,1000 Z" fill="none" stroke="#3f3f3f" stroke-width="8"/><path d="M 563,565 Q 563,468 660,450 L 1036,375 Q 1097,363 1097,426 L 1097,893 Q 1097,958 1036,973 L 646,1071 Q 563,1090 563,998 Z" fill="none" stroke="#3f3f3f" stroke-width="7"/>
</g>
<g transform="translate(1090,290) scale(0.124224)">
<path d="M 545,500 Q 560,450 620,340 Q 700,210 790,150 Q 830,130 900,150 M 770,180 Q 790,172 825,182 M 690,540 Q 700,500 730,495 L 765,545 Q 720,580 690,540 Z M 765,545 Q 840,520 900,495" fill="none" stroke="#555" stroke-width="7"/>
<path d="M 395,535 Q 480,560 560,515 L 770,345 L 795,338 L 832,385 L 805,410 Q 600,520 500,775 L 410,870 L 310,600 Z" fill="#fff" stroke="#3f3f3f" stroke-width="9" stroke-linejoin="round"/>
<path d="M 745,460 Q 560,580 520,760" fill="none" stroke="#3f3f3f" stroke-width="8"/>
<path d="M 395,535 L 492,775" fill="none" stroke="#3f3f3f" stroke-width="14"/>
<path d="M 400,825 L 495,770 M 415,860 L 510,795 M 440,885 Q 520,880 530,770" fill="none" stroke="#3f3f3f" stroke-width="8"/>
<path d="M 250,640 L 312,598 L 412,872 L 352,897 Z" fill="#454545" stroke="#454545" stroke-width="6" stroke-linejoin="round"/>
</g>
</g>
<g clip-path="url(#cp2)">
<g transform="translate(1210,236) scale(0.171429)">
<path d="M 10,602 L 270,602" stroke="#454545" stroke-width="16" fill="none"/>
<path d="M 10,633 L 270,633" stroke="#707070" stroke-width="16" fill="none"/>
<path d="M 10,664 L 270,664" stroke="#454545" stroke-width="16" fill="none"/>
<path d="M 10,697 L 270,697" stroke="#707070" stroke-width="16" fill="none"/>
<path d="M 10,728 L 270,728" stroke="#454545" stroke-width="16" fill="none"/>
<path d="M 10,762 L 270,762" stroke="#707070" stroke-width="16" fill="none"/>
<path d="M 10,797 L 270,797" stroke="#454545" stroke-width="16" fill="none"/>
<path d="M 560,1075 L 300,930 Q 262,910 262,870 L 262,445 Q 262,335 352,318 L 710,240 Q 740,234 770,245 L 1085,362 L 1115,900 Z" fill="#fff" stroke="#3f3f3f" stroke-width="8.5" stroke-linejoin="round"/>
<path d="M 565,355 L 565,375 A 50,21 0 0 0 665,375 L 665,355" fill="#fff" stroke="#3f3f3f" stroke-width="7.5"/>
<ellipse cx="615" cy="355" rx="50" ry="21" fill="#fff" stroke="#3f3f3f" stroke-width="10.5"/>
<path d="M 778,306 L 778,326 A 47,19 0 0 0 872,326 L 872,306" fill="#fff" stroke="#3f3f3f" stroke-width="7.5"/>
<ellipse cx="825" cy="306" rx="47" ry="19" fill="#fff" stroke="#3f3f3f" stroke-width="10.5"/>
<path d="M 545,560 Q 545,450 655,432 L 1040,355 Q 1115,340 1115,420 L 1115,900 Q 1115,975 1040,992 L 640,1090 Q 545,1112 545,1000 Z" fill="#fff" stroke="none"/>
<path d="M 850,412 L 850,790 Q 848,850 770,872 L 575,915" fill="none" stroke="#9a9a9a" stroke-width="4"/>
<clipPath id="p2in"><path d="M 572,300 L 1400,300 L 1400,1200 L 572,1200 Z"/></clipPath>
<g clip-path="url(#p2in)">
<path d="M 560,630 Q 990,672 1420,1075" fill="none" stroke="#454545" stroke-width="24"/>
<path d="M 560,666 Q 957,705 1344,1083" fill="none" stroke="#707070" stroke-width="24"/>
<path d="M 560,700 Q 924,739 1269,1091" fill="none" stroke="#454545" stroke-width="24"/>
<path d="M 560,735 Q 891,772 1193,1099" fill="none" stroke="#707070" stroke-width="24"/>
<path d="M 560,770 Q 859,805 1117,1106" fill="none" stroke="#454545" stroke-width="24"/>
<path d="M 560,805 Q 826,838 1041,1114" fill="none" stroke="#707070" stroke-width="24"/>
<path d="M 560,838 Q 793,872 966,1122" fill="none" stroke="#454545" stroke-width="24"/>
<path d="M 560,872 Q 760,905 890,1130" fill="none" stroke="#707070" stroke-width="24"/>
</g>
<path d="M 545,560 Q 545,450 655,432 L 1040,355 Q 1115,340 1115,420 L 1115,900 Q 1115,975 1040,992 L 640,1090 Q 545,1112 545,1000 Z" fill="none" stroke="#3f3f3f" stroke-width="8"/><path d="M 563,565 Q 563,468 660,450 L 1036,375 Q 1097,363 1097,426 L 1097,893 Q 1097,958 1036,973 L 646,1071 Q 563,1090 563,998 Z" fill="none" stroke="#3f3f3f" stroke-width="7"/>
</g>
</g>
<g clip-path="url(#cp3)">
<g transform="translate(1446,236) scale(0.171429)">
<defs><pattern id="mesh3" width="17.5" height="17.5" patternUnits="userSpaceOnUse" patternTransform="skewY(-10)"><rect width="17.5" height="17.5" fill="#fff"/><path d="M 0,8.75 L 17.5,8.75 M 8.75,0 L 8.75,17.5" stroke="#626262" stroke-width="4.3" fill="none"/></pattern></defs>
<path d="M 15,438 L 235,472" stroke="#454545" stroke-width="31" fill="none" stroke-linecap="butt"/>
<path d="M 15,500 L 235,545" stroke="#707070" stroke-width="30" fill="none" stroke-linecap="butt"/>
<path d="M 15,563 L 235,592" stroke="#454545" stroke-width="32" fill="none" stroke-linecap="butt"/>
<path d="M 15,622 L 235,642" stroke="#454545" stroke-width="30" fill="none" stroke-linecap="butt"/>
<path d="M 15,668 L 235,692" stroke="#707070" stroke-width="28" fill="none" stroke-linecap="butt"/>
<path d="M 15,722 L 235,748" stroke="#454545" stroke-width="32" fill="none" stroke-linecap="butt"/>
<path d="M 15,780 L 235,814" stroke="#454545" stroke-width="32" fill="none" stroke-linecap="butt"/>
<path d="M 15,362 L 235,505" stroke="#707070" stroke-width="30" fill="none" stroke-linecap="butt"/>
</g>
<g transform="translate(1439.5,232.2) scale(0.171429)">
<path d="M 560,1075 L 300,930 Q 262,910 262,870 L 262,445 Q 262,335 352,318 L 710,240 Q 740,234 770,245 L 1085,362 L 1115,900 Z" fill="#fff" stroke="#3f3f3f" stroke-width="8.5" stroke-linejoin="round"/>
<path d="M 565,355 L 565,375 A 50,21 0 0 0 665,375 L 665,355" fill="#fff" stroke="#3f3f3f" stroke-width="7.5"/>
<ellipse cx="615" cy="355" rx="50" ry="21" fill="#fff" stroke="#3f3f3f" stroke-width="10.5"/>
<path d="M 778,306 L 778,326 A 47,19 0 0 0 872,326 L 872,306" fill="#fff" stroke="#3f3f3f" stroke-width="7.5"/>
<ellipse cx="825" cy="306" rx="47" ry="19" fill="#fff" stroke="#3f3f3f" stroke-width="10.5"/>
<path d="M 545,560 Q 545,450 655,432 L 1040,355 Q 1115,340 1115,420 L 1115,900 Q 1115,975 1040,992 L 640,1090 Q 545,1112 545,1000 Z" fill="#fff" stroke="none"/>
<path d="M 545,560 Q 545,450 655,432 L 1040,355 Q 1115,340 1115,420 L 1115,900 Q 1115,975 1040,992 L 640,1090 Q 545,1112 545,1000 Z" fill="none" stroke="#3f3f3f" stroke-width="8"/><path d="M 563,565 Q 563,468 660,450 L 1036,375 Q 1097,363 1097,426 L 1097,893 Q 1097,958 1036,973 L 646,1071 Q 563,1090 563,998 Z" fill="none" stroke="#3f3f3f" stroke-width="7"/>
</g>
<g transform="translate(1446,236) scale(0.171429)">
<clipPath id="p3in"><path d="M 528,300 L 1400,300 L 1400,1200 L 528,1200 Z"/></clipPath>
<g clip-path="url(#p3in)">
<path d="M 820,395 L 820,598 Q 818,625 790,633 L 745,645 L 1060,790 M 745,645 Q 800,628 820,630 L 1065,775" fill="none" stroke="#555" stroke-width="5"/>
<path d="M 528,892 L 985,808 L 1062,845 L 1062,900 Q 1060,955 1000,970 L 610,1062 Q 528,1080 528,1000 Z" fill="url(#mesh3)" stroke="#3f3f3f" stroke-width="5"/>
<path d="M 520,668 Q 700,700 900,775 Q 1150,868 1400,936" fill="none" stroke="#707070" stroke-width="30"/>
<path d="M 520,590 Q 800,660 1000,765 Q 1150,825 1400,890" fill="none" stroke="#454545" stroke-width="31"/>
<path d="M 745,645 Q 900,702 1040,777 Q 1200,834 1400,887" fill="none" stroke="#454545" stroke-width="28"/>
<path d="M 868,892 L 1400,1100" fill="none" stroke="#707070" stroke-width="26" stroke-linecap="round"/>
<path d="M 982,873 L 1400,1030" fill="none" stroke="#454545" stroke-width="31" stroke-linecap="round"/>
<path d="M 730,908 L 1330,1128" fill="none" stroke="#454545" stroke-width="29" stroke-linecap="round"/>
<path d="M 640,922 L 1075,1128" fill="none" stroke="#454545" stroke-width="26"/>
<path d="M 520,775 Q 620,880 790,1130" fill="none" stroke="#707070" stroke-width="24"/>
</g>
<path d="M 505,540 L 505,1000 M 523,547 L 523,998" stroke="#3f3f3f" stroke-width="5.5" fill="none"/>
</g>
</g>
<g clip-path="url(#cp4)">
<g transform="translate(975,437) scale(0.171429)">
<defs><pattern id="mesh4" width="17.5" height="17.5" patternUnits="userSpaceOnUse" patternTransform="skewY(-13)"><rect width="17.5" height="17.5" fill="#fff"/><path d="M 0,8.75 L 17.5,8.75 M 8.75,0 L 8.75,17.5" stroke="#626262" stroke-width="4.4" fill="none"/></pattern></defs>
<path d="M 450,1052 L 195,922 Q 146,900 144,850 L 144,400 Q 146,320 232,300 L 615,226 Q 650,220 685,233 L 960,350 L 985,900 Z" fill="#fff" stroke="#3f3f3f" stroke-width="6" stroke-linejoin="round"/>
<path d="M 10,307 Q 251,328 520,448" fill="none" stroke="#707070" stroke-width="29" stroke-linecap="butt"/>
<path d="M 10,357 Q 266,376 500,490" fill="none" stroke="#454545" stroke-width="32" stroke-linecap="butt"/>
<path d="M 10,432 Q 192,450 365,535" fill="none" stroke="#707070" stroke-width="32" stroke-linecap="butt"/>
<path d="M 10,490 Q 200,513 351,596" fill="none" stroke="#454545" stroke-width="32" stroke-linecap="butt"/>
<path d="M 10,631 Q 234,670 470,775" fill="none" stroke="#454545" stroke-width="30" stroke-linecap="butt"/>
<path d="M 10,678 Q 234,731 470,818" fill="none" stroke="#707070" stroke-width="28" stroke-linecap="butt"/>
<path d="M 10,731 Q 218,768 401,860" fill="none" stroke="#454545" stroke-width="31" stroke-linecap="butt"/>
<path d="M 10,795 Q 194,838 333,914" fill="none" stroke="#454545" stroke-width="32" stroke-linecap="butt"/>
<path d="M 450,1052 L 195,922 Q 146,900 144,850 L 144,400 Q 146,320 232,300 L 615,226 Q 650,220 685,233 L 960,350" fill="none" stroke="#3f3f3f" stroke-width="5" stroke-linejoin="round"/>
<path d="M 445,338 L 445,358 A 50,21 0 0 0 545,358 L 545,338" fill="#fff" stroke="#3f3f3f" stroke-width="6"/>
<ellipse cx="495" cy="338" rx="50" ry="21" fill="#fff" stroke="#3f3f3f" stroke-width="6"/>
<path d="M 657,298 L 657,318 A 48,19 0 0 0 753,318 L 753,298" fill="#fff" stroke="#3f3f3f" stroke-width="6"/>
<ellipse cx="705" cy="298" rx="48" ry="19" fill="#fff" stroke="#3f3f3f" stroke-width="6"/>
<path d="M 432,535 Q 432,455 520,438 L 900,346 Q 985,330 985,410 L 985,900 Q 985,975 910,992 L 540,1082 Q 432,1105 432,1000 Z" fill="url(#mesh4)" stroke="#3f3f3f" stroke-width="7"/>
<path d="M 441,538 Q 441,462 522,447 L 899,355 Q 976,341 976,412 L 976,898 Q 976,968 908,984 L 542,1073 Q 441,1094 441,999 Z" fill="none" stroke="#fff" stroke-width="10"/>
<path d="M 451,540 Q 451,471 526,456 L 898,365 Q 966,353 966,416 L 966,895 Q 966,959 905,974 L 545,1062 Q 451,1082 451,998 Z" fill="none" stroke="#3f3f3f" stroke-width="5.5"/>
<path d="M 472,548 Q 472,490 535,477 L 890,392 Q 945,382 945,430 L 945,885 Q 945,938 895,950 L 552,1035 Q 472,1052 472,985 Z" fill="none" stroke="#4d4d4d" stroke-width="4.5"/>
<path d="M 498,560 Q 498,512 548,502 L 880,422 Q 920,415 920,452 L 920,870 Q 920,912 880,922 L 560,1002 Q 498,1015 498,965 Z" fill="none" stroke="#4d4d4d" stroke-width="4.5"/>
<path d="M 685,478 Q 968,515 1345,641" fill="none" stroke="#707070" stroke-width="36" stroke-linecap="round"/>
<path d="M 645,600 Q 988,631 1345,804" fill="none" stroke="#707070" stroke-width="36" stroke-linecap="round"/>
<path d="M 785,885 Q 1040,965 1345,1111" fill="none" stroke="#707070" stroke-width="34" stroke-linecap="round"/>
<path d="M 905,862 Q 1120,940 1345,1056" fill="none" stroke="#454545" stroke-width="40" stroke-linecap="round"/>
<path d="M 545,500 Q 1038,577 1345,716" fill="none" stroke="#454545" stroke-width="40" stroke-linecap="round"/>
<path d="M 545,630 Q 1038,708 1345,893" fill="none" stroke="#454545" stroke-width="40" stroke-linecap="round"/>
<path d="M 645,903 Q 988,1003 1345,1173" fill="none" stroke="#454545" stroke-width="38" stroke-linecap="round"/>
<path d="M 545,930 Q 800,1020 1100,1170" fill="none" stroke="#454545" stroke-width="38" stroke-linecap="round"/>
<path d="M 992,378 L 900,440 M 992,378 L 920,470 M 992,378 L 945,480 M 992,378 L 965,470 M 992,378 L 930,410 M 992,378 L 985,450" stroke="#555" stroke-width="4" fill="none"/>
</g>
<g transform="translate(1130,440) scale(0.06124)" fill="none" stroke-linejoin="round" stroke-linecap="round">
<path d="M 390,705 L 270,920 Q 258,968 302,960 L 478,805 Z" fill="#fff" stroke="#3f3f3f" stroke-width="16"/>
<path d="M 352,692 L 440,592 L 608,732 L 520,828 Z" fill="#fff" stroke="#3f3f3f" stroke-width="22"/>
<path d="M 392,698 Q 470,715 522,790 M 470,585 Q 560,615 602,692" stroke="#3f3f3f" stroke-width="20"/>
<path d="M 560,40 L 485,360 L 408,478 Q 380,530 440,575 L 640,740 Q 690,775 722,735 L 1190,200 L 1190,40 Z" fill="#fff" stroke="none"/>
<path d="M 485,360 L 408,478 Q 380,530 440,575 L 640,740 Q 690,775 722,735 L 1190,200" stroke="#3f3f3f" stroke-width="24"/>
<path d="M 425,497 Q 600,540 700,742" stroke="#3f3f3f" stroke-width="20"/>
<path d="M 560,60 Q 500,180 470,270 Q 465,320 485,360 M 790,55 Q 680,130 600,230 L 485,362 M 850,60 L 900,130 Q 780,230 735,300 Q 690,400 700,440 Q 720,530 800,505 L 870,432 M 755,362 Q 800,420 870,432 Q 1000,320 1100,230 L 1190,192" stroke="#4a4a4a" stroke-width="12"/>
</g>
</g>
<g clip-path="url(#cp5)">
<g transform="translate(1274.73,443.99) scale(0.1679)" fill="none" stroke="#484848" stroke-width="6.5">
<path d="M 155,495 L 155,545 L 152,590 Q 150,612 168,618 L 195,1000 A 183,70 0 0 0 561,1000 L 588,618 Q 606,612 604,590 L 601,545 L 601,495 Z" fill="#fff" stroke="none"/>
<path d="M 168,618 L 195,1000 A 183,70 0 0 0 561,1000 L 588,618"/>
<path d="M 190,935 A 188,68 0 0 0 566,935" stroke-width="4.5"/>
<path d="M 193,968 A 185,68 0 0 0 563,968" stroke-width="4.5"/>
<path d="M 194,985 A 184,68 0 0 0 562,985" stroke-width="4.5"/>
<path d="M 170,640 A 208,58 0 0 0 586,640" stroke-width="4.5"/>
<path d="M 170,668 A 208,58 0 0 0 586,668" stroke-width="4.5"/>
<path d="M 170,695 A 208,60 0 0 0 586,695" stroke-width="4.5"/>
<path d="M 152,590 A 226,58 0 0 0 604,590 M 158,600 A 221,58 0 0 0 598,600" />
<path d="M 155,545 A 223,56 0 0 0 601,545 M 155,545 L 152,590 M 601,545 L 604,590"/>
<path d="M 155,495 L 155,545 M 601,495 L 601,545"/>
<path d="M 155,507 A 223,56 0 0 0 601,507" stroke-width="8"/>
<ellipse cx="378" cy="495" rx="223" ry="56" fill="#fff" stroke-width="8.5"/>
<ellipse cx="378" cy="497" rx="212" ry="49" stroke-width="4.5"/>
<path d="M 328,602 L 328,655 L 382,660 L 382,604" fill="#fff" stroke-width="4.5"/>
<path d="M 356,636 Q 272,712 160,776" stroke="#454545" stroke-width="26" stroke-linecap="round"/>
<path d="M 356,636 Q 272,712 160,776" stroke="#fff" stroke-width="12" stroke-linecap="round"/>
<path d="M 356,636 Q 272,712 160,776" stroke="#777" stroke-width="3.5"/>
<path d="M 150,772 Q 160,735 182,712" stroke="#454545" stroke-width="6"/>
</g>
<g transform="translate(1240,440) scale(0.104987)" fill="none" stroke="#555" stroke-width="9" stroke-linejoin="round">
<path d="M 110,560 L 450,295 L 590,258 Q 650,245 675,285 L 745,400 L 760,455 L 790,520 Q 770,540 740,560 L 345,870 Q 320,880 290,865 L 235,830 Q 205,810 195,780 L 112,590 Q 105,575 110,560 Z" fill="#fff"/>
<path d="M 460,300 L 590,530 Q 650,500 745,490 M 150,515 L 250,745 L 335,860 M 250,745 L 590,530 M 285,800 L 620,560 Q 700,520 770,520 M 320,850 L 760,540" stroke-width="7"/>
<path d="M 548,330 Q 540,300 575,293 L 625,288 Q 650,288 665,315 L 690,370 Q 695,400 660,412 Q 620,425 600,395 Z" stroke-width="7"/>
<path d="M 722,455 L 760,438 L 800,500 L 770,525 Z" fill="#666" stroke="#555" stroke-width="8"/>
<path d="M 790,485 Q 825,510 830,560 Q 835,700 865,845 M 775,520 Q 800,560 810,620 Q 820,740 838,840 M 822,700 Q 815,760 830,840" stroke-width="6"/>
<path d="M 1110,125 L 1215,125 L 1700,165 Q 1800,165 1830,330 Q 1850,520 1750,612 L 1190,682 L 1110,675 Q 1045,560 1048,380 Q 1050,200 1110,125 Z" fill="#fff" stroke="none"/>
<ellipse cx="1112" cy="400" rx="64" ry="276" stroke-width="9" fill="#fff"/>
<path d="M 1112,124 L 1135,130 Q 1195,250 1185,450 Q 1180,600 1130,680 L 1105,676 M 1160,128 Q 1240,250 1228,450 Q 1222,600 1180,682 M 1210,125 Q 1290,250 1270,450 Q 1262,600 1225,680" stroke-width="7"/>
<path d="M 1215,125 L 1700,165 M 1190,682 L 1740,612" stroke-width="7"/>
<path d="M 1700,165 Q 1800,165 1830,330 Q 1850,520 1750,612 M 1680,163 Q 1760,300 1745,450 Q 1738,560 1700,618 M 1715,168 Q 1795,300 1780,450 Q 1772,560 1730,614 M 1745,172 Q 1820,300 1805,450 Q 1795,560 1745,612" stroke-width="6"/>
<path d="M 1290,140 Q 1350,300 1335,470 Q 1328,600 1300,668 M 1330,145 Q 1385,300 1370,470 Q 1365,600 1335,664 M 1395,150 Q 1455,300 1440,470 Q 1432,600 1400,656" stroke-width="6"/>
<path d="M 1255,340 L 1305,335 L 1312,400 L 1262,406 Z M 1240,150 Q 1275,250 1275,335 M 1280,405 Q 1275,560 1245,670" stroke-width="6" fill="#fff"/>
<path d="M 1085,625 Q 1040,640 1035,700 Q 1040,780 1005,860 M 1100,680 Q 1075,700 1075,760 Q 1080,810 1060,855 M 1060,650 Q 1050,720 1060,780 Q 1050,830 1035,860 M 1105,700 Q 1095,780 1105,850 M 1085,690 Q 1080,760 1092,850" stroke-width="5" stroke="#777"/>
<text x="300" y="610" font-family="'Liberation Sans', sans-serif" font-size="92" fill="#555" stroke="none" transform="rotate(-8 345 580)">A</text>
<text x="1542" y="495" font-family="'Liberation Sans', sans-serif" font-size="92" fill="#555" stroke="none">B</text>
</g>
</g>
<g clip-path="url(#cp6)">
<g transform="translate(1510.03,439.99) scale(0.1679)" fill="none" stroke="#484848" stroke-width="6.5">
<path d="M 155,495 L 155,545 L 152,590 Q 150,612 168,618 L 195,1000 A 183,70 0 0 0 561,1000 L 588,618 Q 606,612 604,590 L 601,545 L 601,495 Z" fill="#fff" stroke="none"/>
<path d="M 168,618 L 195,1000 A 183,70 0 0 0 561,1000 L 588,618"/>
<path d="M 190,935 A 188,68 0 0 0 566,935" stroke-width="4.5"/>
<path d="M 193,968 A 185,68 0 0 0 563,968" stroke-width="4.5"/>
<path d="M 194,985 A 184,68 0 0 0 562,985" stroke-width="4.5"/>
<path d="M 170,640 A 208,58 0 0 0 586,640" stroke-width="4.5"/>
<path d="M 170,668 A 208,58 0 0 0 586,668" stroke-width="4.5"/>
<path d="M 170,695 A 208,60 0 0 0 586,695" stroke-width="4.5"/>
<path d="M 152,590 A 226,58 0 0 0 604,590 M 158,600 A 221,58 0 0 0 598,600" />
<path d="M 155,545 A 223,56 0 0 0 601,545 M 155,545 L 152,590 M 601,545 L 604,590"/>
<path d="M 155,495 L 155,545 M 601,495 L 601,545"/>
<path d="M 155,507 A 223,56 0 0 0 601,507" stroke-width="8"/>
<ellipse cx="378" cy="495" rx="223" ry="56" fill="#fff" stroke-width="8.5"/>
<ellipse cx="378" cy="497" rx="212" ry="49" stroke-width="4.5"/>
<path d="M 328,602 L 328,655 L 382,660 L 382,604" fill="#fff" stroke-width="4.5"/>
<path d="M 356,636 Q 272,712 160,776" stroke="#454545" stroke-width="26" stroke-linecap="round"/>
<path d="M 356,636 Q 272,712 160,776" stroke="#fff" stroke-width="12" stroke-linecap="round"/>
<path d="M 356,636 Q 272,712 160,776" stroke="#777" stroke-width="3.5"/>
<path d="M 150,772 Q 160,735 182,712" stroke="#454545" stroke-width="6"/>
</g>
<g transform="translate(1600,440) scale(0.06124)" fill="none" stroke-linecap="round" stroke-linejoin="round">
<path d="M -322,1238 L 1075,185" stroke="#3f3f3f" stroke-width="74"/>
<path d="M -310,1229 L 1075,185" stroke="#fff" stroke-width="40"/>
<path d="M -345,1215 L -285,1240 L -300,1400 Q -335,1300 -345,1215 Z" fill="#555" stroke="#555" stroke-width="14"/>
<path d="M 870,300 L 760,295 L 620,410 L 585,450 L 600,490 L 690,495 L 570,625 L 700,640 L 900,620 L 1200,555 L 1180,405 L 1060,390 L 950,320 Z" fill="#fff" stroke="none"/>
<path d="M 870,300 Q 780,288 740,310 L 620,410 Q 575,450 590,475 Q 600,492 690,495 M 625,408 L 690,400 M 950,320 Q 1010,350 1060,390 Q 1120,410 1180,405 M 580,618 Q 700,570 780,580 Q 850,586 890,575 M 565,632 Q 640,592 740,602 Q 820,642 900,620 Q 1050,570 1200,556" stroke="#4a4a4a" stroke-width="13"/>
<path d="M 600,480 L 690,494 M 470,600 L 500,585 M 590,625 L 640,612" stroke="#3f3f3f" stroke-width="22"/>
</g>
</g>
<g clip-path="url(#cp7)">
<g transform="translate(1684,238) scale(0.174917)">
<defs><pattern id="mesh7" width="17.5" height="17.5" patternUnits="userSpaceOnUse" patternTransform="skewY(-10)"><rect width="17.5" height="17.5" fill="#fff"/><path d="M 0,8.75 L 17.5,8.75 M 8.75,0 L 8.75,17.5" stroke="#626262" stroke-width="4.3" fill="none"/></pattern></defs>
<path d="M 10,350 Q 150,361 300,387" stroke="#707070" stroke-width="25" fill="none"/>
<path d="M 10,386 Q 150,395 300,417" stroke="#454545" stroke-width="26" fill="none"/>
<path d="M 10,437 Q 150,447 300,471" stroke="#707070" stroke-width="29" fill="none"/>
<path d="M 10,482 Q 150,495 300,525" stroke="#454545" stroke-width="29" fill="none"/>
<path d="M 10,578 Q 150,593 300,630" stroke="#454545" stroke-width="23" fill="none"/>
<path d="M 10,614 Q 150,628 300,660" stroke="#707070" stroke-width="23" fill="none"/>
<path d="M 10,650 Q 150,667 300,708" stroke="#454545" stroke-width="26" fill="none"/>
<path d="M 10,695 Q 150,714 300,759" stroke="#454545" stroke-width="29" fill="none"/>
<path d="M 540,928 L 305,822 Q 283,810 283,785 L 283,440 Q 283,370 345,355 L 640,300 Q 672,295 705,306 L 935,392 L 975,800 Z" fill="#fff" stroke="#3f3f3f" stroke-width="7" stroke-linejoin="round"/>
<path d="M 520,385 L 520,400 A 42,18 0 0 0 604,400 L 604,385" fill="#fff" stroke="#3f3f3f" stroke-width="6"/><ellipse cx="562" cy="385" rx="42" ry="18" fill="#fff" stroke="#3f3f3f" stroke-width="6"/>
<path d="M 702,352 L 702,366 A 40,16 0 0 0 782,366 L 782,352" fill="#fff" stroke="#3f3f3f" stroke-width="6"/><ellipse cx="742" cy="352" rx="40" ry="16" fill="#fff" stroke="#3f3f3f" stroke-width="6"/>
<path d="M 510,530 Q 510,455 590,440 L 900,385 Q 975,373 975,445 L 975,790 Q 975,850 910,865 L 590,930 Q 510,945 510,870 Z" fill="url(#mesh7)" stroke="#3f3f3f" stroke-width="7"/>
<path d="M 518,533 Q 518,462 592,448 L 899,393 Q 967,382 967,448 L 967,787 Q 967,844 907,857 L 592,921 Q 518,936 518,868 Z" fill="none" stroke="#fff" stroke-width="9"/>
<path d="M 526,535 Q 526,469 595,456 L 898,402 Q 958,392 958,451 L 958,785 Q 958,836 904,848 L 595,912 Q 526,926 526,866 Z" fill="none" stroke="#3f3f3f" stroke-width="5.5"/>
<path d="M 545,545 Q 545,490 600,478 L 890,425 Q 938,418 938,465 L 938,770 Q 938,818 892,828 L 604,890 Q 545,902 545,850 Z" fill="none" stroke="#4d4d4d" stroke-width="4.5"/>
<path d="M 568,555 Q 568,510 612,500 L 880,452 Q 915,447 915,485 L 915,755 Q 915,795 880,803 L 614,862 Q 568,872 568,832 Z" fill="none" stroke="#4d4d4d" stroke-width="4.5"/>
<path d="M 719,487 L 1440,668" stroke="#707070" stroke-width="23" fill="none" stroke-linecap="round"/>
<path d="M 691,585 L 1440,780" stroke="#707070" stroke-width="27" fill="none" stroke-linecap="round"/>
<path d="M 803,802 L 1440,1012" stroke="#707070" stroke-width="25" fill="none" stroke-linecap="round"/>
<path d="M 901,785 L 1440,969" stroke="#454545" stroke-width="29" fill="none" stroke-linecap="round"/>
<path d="M 603,504 L 1440,717" stroke="#454545" stroke-width="28" fill="none" stroke-linecap="round"/>
<path d="M 603,604 L 1440,833" stroke="#454545" stroke-width="29" fill="none" stroke-linecap="round"/>
<path d="M 691,813 L 1440,1061" stroke="#454545" stroke-width="27" fill="none" stroke-linecap="round"/>
<path d="M 603,823 L 1440,1121" stroke="#454545" stroke-width="29" fill="none" stroke-linecap="round"/>
<ellipse cx="742" cy="352" rx="40" ry="16" fill="none" stroke="#3f3f3f" stroke-width="6"/>
</g>
<path d="M 1880,419 Q 1880,436 1889,449" fill="none" stroke="#3f3f3f" stroke-width="8.5"/>
<path d="M 1880,419 Q 1880,436 1889,449" fill="none" stroke="#fff" stroke-width="6"/>
<path d="M 1880,424 Q 1881,436 1887,446" fill="none" stroke="#555" stroke-width="0.8"/>
<path d="M 1814,300 C 1811,260 1865,254 1867,304 C 1866,325 1872,336 1881,351 S 1897,378 1892,398 S 1885,414 1877,424 S 1850,448 1840,478" fill="none" stroke="#3f3f3f" stroke-width="10.8"/>
<path d="M 1814,300 C 1811,260 1865,254 1867,304 C 1866,325 1872,336 1881,351 S 1897,378 1892,398 S 1885,414 1877,424 S 1850,448 1840,478" fill="none" stroke="#fff" stroke-width="8.2"/>
<path d="M 1814,300 C 1811,260 1865,254 1867,304 C 1866,325 1872,336 1881,351 S 1897,378 1892,398 S 1885,414 1877,424 S 1850,448 1840,478" fill="none" stroke="#555" stroke-width="0.8" stroke-dasharray="7 8" transform="translate(-1.2,0)"/>
<path d="M 1861.5,303 Q 1867,307 1874.5,303.5 M 1862,306.5 Q 1868,310.5 1875,306" fill="none" stroke="#3f3f3f" stroke-width="1.3"/>
<ellipse cx="1813.8" cy="299.6" rx="7" ry="2.8" fill="none" stroke="#3f3f3f" stroke-width="1.2"/>
<g transform="translate(1759.23,447.39) scale(0.1679)" fill="none" stroke="#484848" stroke-width="6.5">
<path d="M 155,495 L 155,545 L 152,590 Q 150,612 168,618 L 195,1000 A 183,70 0 0 0 561,1000 L 588,618 Q 606,612 604,590 L 601,545 L 601,495 Z" fill="#fff" stroke="none"/>
<path d="M 168,618 L 195,1000 A 183,70 0 0 0 561,1000 L 588,618"/>
<path d="M 190,935 A 188,68 0 0 0 566,935" stroke-width="4.5"/>
<path d="M 193,968 A 185,68 0 0 0 563,968" stroke-width="4.5"/>
<path d="M 194,985 A 184,68 0 0 0 562,985" stroke-width="4.5"/>
<path d="M 170,640 A 208,58 0 0 0 586,640" stroke-width="4.5"/>
<path d="M 170,668 A 208,58 0 0 0 586,668" stroke-width="4.5"/>
<path d="M 170,695 A 208,60 0 0 0 586,695" stroke-width="4.5"/>
<path d="M 152,590 A 226,58 0 0 0 604,590 M 158,600 A 221,58 0 0 0 598,600" />
<path d="M 155,545 A 223,56 0 0 0 601,545 M 155,545 L 152,590 M 601,545 L 604,590"/>
<path d="M 155,495 L 155,545 M 601,495 L 601,545"/>
<path d="M 155,507 A 223,56 0 0 0 601,507" stroke-width="8"/>
<ellipse cx="378" cy="495" rx="223" ry="56" fill="#fff" stroke-width="11"/>
<ellipse cx="378" cy="497" rx="212" ry="49" stroke-width="4.5"/>
<path d="M 328,602 L 328,655 L 382,660 L 382,604" fill="#fff" stroke-width="4.5"/>
<path d="M 356,636 Q 272,712 160,776" stroke="#454545" stroke-width="26" stroke-linecap="round"/>
<path d="M 356,636 Q 272,712 160,776" stroke="#fff" stroke-width="12" stroke-linecap="round"/>
<path d="M 356,636 Q 272,712 160,776" stroke="#777" stroke-width="3.5"/>
<path d="M 150,772 Q 160,735 182,712" stroke="#454545" stroke-width="6"/>
</g>
<g transform="translate(1684,400) scale(0.204666)" fill="none" stroke="#4a4a4a" stroke-width="6">
<path d="M 712,525 L 712,650 L 756,650 L 756,525 Z" fill="#fff" stroke="#4a4a4a" stroke-width="7"/>
<path d="M 735,560 L 735,625" stroke="#555" stroke-width="5"/>
<circle cx="745" cy="445" r="86" fill="#fff" stroke="#4a4a4a" stroke-width="9" stroke-dasharray="38 7"/>
<circle cx="745" cy="445" r="78" fill="#fff" stroke="#4a4a4a" stroke-width="7"/>
<circle cx="745" cy="445" r="66" fill="#fff" stroke="#4a4a4a" stroke-width="6"/>
<path d="M 640,434 L 830,434 L 830,458 L 640,458 Z" fill="#fff" stroke="#4a4a4a" stroke-width="7"/>
<path d="M 500,428 L 632,432 L 640,445 L 632,458 L 500,462 Q 488,462 488,445 Q 488,428 500,428 Z" fill="#fff" stroke="#4a4a4a" stroke-width="7"/>
<rect x="730" y="430" width="26" height="32" fill="#fff" stroke="#4a4a4a" stroke-width="5"/>
</g>
</g>
<text x="995.8" y="278.2" font-family="'Noto Sans CJK SC', sans-serif" font-weight="300" font-size="27.8" fill="#3c3c3c">1</text>
<text x="1232.4" y="278.2" font-family="'Noto Sans CJK SC', sans-serif" font-weight="300" font-size="27.8" fill="#3c3c3c">2</text>
<text x="1468.7" y="278.2" font-family="'Noto Sans CJK SC', sans-serif" font-weight="300" font-size="27.8" fill="#3c3c3c">3</text>
<text x="1720.0" y="278.4" font-family="'Noto Sans CJK SC', sans-serif" font-weight="300" font-size="27.8" fill="#3c3c3c">7</text>
<text x="993.2" y="478" font-family="'Noto Sans CJK SC', sans-serif" font-weight="300" font-size="27.8" fill="#3c3c3c">4</text>
<text x="1231.8" y="478.2" font-family="'Noto Sans CJK SC', sans-serif" font-weight="300" font-size="27.8" fill="#3c3c3c">5</text>
<text x="1467.6" y="478.1" font-family="'Noto Sans CJK SC', sans-serif" font-weight="300" font-size="27.8" fill="#3c3c3c">6</text>
<rect x="995" y="275.2" width="6.8" height="4.5" fill="#fff"/><rect x="1005.3" y="275.2" width="7" height="4.5" fill="#fff"/>
<rect x="978.5" y="240.5" width="227" height="188.5" fill="none" stroke="#454545" stroke-width="2.7"/>
<rect x="1213" y="240.5" width="227" height="188.5" fill="none" stroke="#454545" stroke-width="2.7"/>
<rect x="1449.5" y="240.5" width="227" height="188.5" fill="none" stroke="#454545" stroke-width="2.7"/>
<rect x="1686" y="240.5" width="248" height="388" fill="none" stroke="#454545" stroke-width="2.7"/>
<rect x="978.5" y="441.5" width="227" height="187.5" fill="none" stroke="#454545" stroke-width="2.7"/>
<rect x="1213" y="441.5" width="227" height="190.5" fill="none" stroke="#454545" stroke-width="2.7"/>
<rect x="1449.5" y="441.5" width="227" height="187" fill="none" stroke="#454545" stroke-width="2.7"/>
<!--/PANELS-->
</svg>

<div class="tag" id="tag1"><span>YB-JGM</span></div>
<div class="tag" id="tag2"><span>安装说明</span></div>
<div id="subtitle">YB-JGM型浇注式电缆贯穿密封装置</div>

<div id="cap"><span style="font-size:10.8px">YB-JGM型</span><br><span style="font-size:11.3px;color:#7d7d7d">浇注式电缆贯穿密封装置</span><br><span>YB-JGM Pouring Cable Transit</span></div>

<ul id="steps">
  <li><span class="n">1.</span>清洁电缆框 / 筒内侧和电缆上的灰尘、污垢。</li>
  <li><span class="n">2.</span>理顺电缆，防止出现交叉。</li>
  <li><span class="n">3.</span>由下往上装 PD 膨胀堵料，使电缆与框架、电缆与电缆间隔&nbsp;&nbsp; 5mm 以上。</li>
  <li><span class="n">4.</span>均匀喷洒阻燃剂，膨胀堵料膨胀后，使框架电缆之间没有间隙。</li>
  <li><span class="n">5.</span>均匀调制 MWT 无机填料，一般使粉剂 A 和辅助液 B 达到&nbsp;&nbsp; 3:2~2.3 的比例。</li>
  <li><span class="n">6.</span>检查调制效果，达到糊状，不准出现较大颗粒。</li>
  <li><span class="n">7.</span>从其中一个浇冒口浇注无机填料，直至另一个浇冒口冒出无&nbsp;&nbsp; 机填料。</li>
  <li>（使用浇注泵浇注大大降低劳动强度，提高了施工&nbsp;&nbsp; 效率。）</li>
</ul>

</body>
</html>
